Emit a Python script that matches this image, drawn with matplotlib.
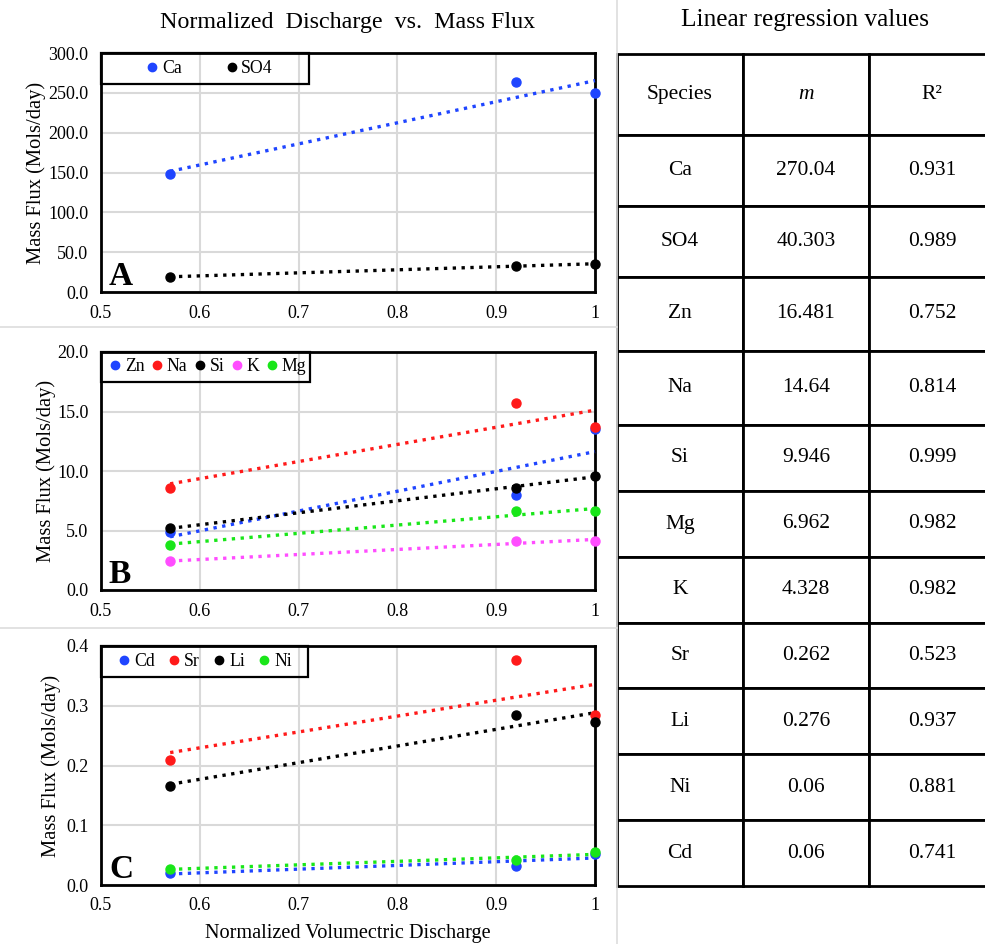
import matplotlib
matplotlib.use("Agg")
import matplotlib.pyplot as plt
import matplotlib.patches as patches
from matplotlib.lines import Line2D
import numpy as np

plt.rcParams['font.family'] = ['Liberation Serif', 'DejaVu Serif']

# ---------------- data ----------------
discharge = [0.57, 0.92, 1.0]

species_a = ['Ca', 'SO4']
flux_a = {'Ca': [148, 263, 250], 'SO4': [19, 33, 35]}

species_b = ['Zn', 'Na', 'Si', 'K', 'Mg']
flux_b = {'Zn': [4.9, 8.0, 13.5], 'Na': [8.6, 15.7, 13.7], 'Si': [5.2, 8.6, 9.6],
          'K': [2.4, 4.1, 4.1], 'Mg': [3.8, 6.6, 6.6]}

species_c = ['Cd', 'Sr', 'Li', 'Ni']
flux_c = {'Cd': [0.020, 0.032, 0.052], 'Sr': [0.210, 0.377, 0.285],
          'Li': [0.165, 0.285, 0.273], 'Ni': [0.027, 0.042, 0.055]}

colors = {'Ca': '#1f45ff', 'SO4': 'black', 'Zn': '#1f45ff', 'Na': '#ff1a1a', 'Si': 'black',
          'K': '#ff4dff', 'Mg': '#19e619', 'Cd': '#1f45ff', 'Sr': '#ff1a1a', 'Li': 'black',
          'Ni': '#19e619'}

table_species = ['Ca', 'SO4', 'Zn', 'Na', 'Si', 'Mg', 'K', 'Sr', 'Li', 'Ni', 'Cd']
table_m = ['270.04', '40.303', '16.481', '14.64', '9.946', '6.962', '4.328',
           '0.262', '0.276', '0.06', '0.06']
table_r2 = ['0.931', '0.989', '0.752', '0.814', '0.999', '0.982', '0.982',
            '0.523', '0.937', '0.881', '0.741']

xticks = [0.5, 0.6, 0.7, 0.8, 0.9, 1.0]
xticklabels = ['0.5', '0.6', '0.7', '0.8', '0.9', '1']

W, H = 985, 944
fig = plt.figure(figsize=(W / 100, H / 100), dpi=100)


def px(l, t, r, b):
    return [l / W, 1 - b / H, (r - l) / W, (b - t) / H]


def panel(rect, species, flux, yticks, fmt, letter, leg_x, leg_w, leg_h, colsp, ylab_x):
    ax = fig.add_axes(px(*rect))
    for s in species:
        y = flux[s]
        ax.plot(discharge, y, 'o', color=colors[s], ms=6.5, zorder=4, clip_on=False)
        k, b = np.polyfit(discharge, y, 1)
        xs = np.array([discharge[0], discharge[-1]])
        ax.plot(xs, k * xs + b, ':', color=colors[s], lw=2.4, zorder=3, clip_on=False)
    ax.set_xlim(0.5, 1.0)
    ax.set_ylim(yticks[0], yticks[-1])
    ax.set_xticks(xticks)
    ax.set_xticklabels(xticklabels)
    ax.set_yticks(yticks)
    ax.set_yticklabels([fmt.format(v) for v in yticks])
    ax.tick_params(length=0, labelsize=13, pad=9)
    ax.grid(color='#d9d9d9', lw=1.5, zorder=0)
    ax.set_axisbelow(True)
    for sp in ax.spines.values():
        sp.set_linewidth(2)
    ax.set_ylabel('Mass Flux (Mols/day)', fontsize=14.8)
    ax.yaxis.set_label_coords(ylab_x, 0.5)
    ax.text(0.016, 0.03, letter, transform=ax.transAxes, fontsize=24, fontweight='bold')
    handles = [Line2D([], [], marker='o', ls='', color=colors[s], ms=6) for s in species]
    ax.legend(handles, species, loc='center left', ncol=len(species),
              bbox_to_anchor=(leg_x, 1 - leg_h / 2), frameon=False, borderpad=0,
              borderaxespad=0, handlelength=0.6, handletextpad=0.25, columnspacing=colsp,
              fontsize=12.8)
    ax.add_patch(patches.Rectangle((0, 1 - leg_h), leg_w, leg_h, transform=ax.transAxes,
                                   fill=False, ec='black', lw=1.6, zorder=5, clip_on=False))
    return ax


axA = panel((101, 53, 595, 292), species_a, flux_a, [0, 50, 100, 150, 200, 250, 300], '{:.1f}',
            'A', 0.093, 0.421, 0.13, 2.5, -0.111)
axA.set_title('Normalized  Discharge  vs.  Mass Flux', fontsize=17.3, pad=18)

panel((101, 352, 595, 590), species_b, flux_b, [0, 5, 10, 15, 20], '{:.1f}',
      'B', 0.018, 0.423, 0.126, 0.4, -0.092)

axC = panel((101, 646, 595, 885), species_c, flux_c, [0, 0.1, 0.2, 0.3, 0.4], '{:.1f}',
            'C', 0.036, 0.419, 0.13, 0.8, -0.08)
axC.set_xlabel('Normalized Volumectric Discharge', fontsize=14.6, labelpad=7)

# separators
for yy in (327, 628):
    fig.add_artist(Line2D([0, 617 / W], [1 - yy / H] * 2, color='#dddddd', lw=1.2))
fig.add_artist(Line2D([617 / W] * 2, [0, 1], color='#dddddd', lw=1.2))

# table
row_h = [81, 71, 71, 74, 74, 66, 66, 66, 65, 66, 66, 66]
tab_ax = fig.add_axes(px(617, 54, 995, 886))
tab_ax.axis('off')
cells = [[s, m, r] for s, m, r in zip(table_species, table_m, table_r2)]
tbl = tab_ax.table(cellText=cells, colLabels=['Species', 'm', 'R²'], cellLoc='center',
                   bbox=[0, 0, 1, 1])
tbl.auto_set_font_size(False)
for (r, c), cell in tbl.get_celld().items():
    cell.set_height(row_h[r] / sum(row_h))
    cell.set_width(1 / 3)
    cell.set_linewidth(2)
    cell.get_text().set_fontsize(15.5)
    cell.set_clip_on(False)
tbl[0, 1].get_text().set_fontstyle('italic')
fig.text(805 / W, 1 - 20 / H, 'Linear regression values', fontsize=18.3, ha='center', va='center')

fig.savefig('out.png', dpi=100)
